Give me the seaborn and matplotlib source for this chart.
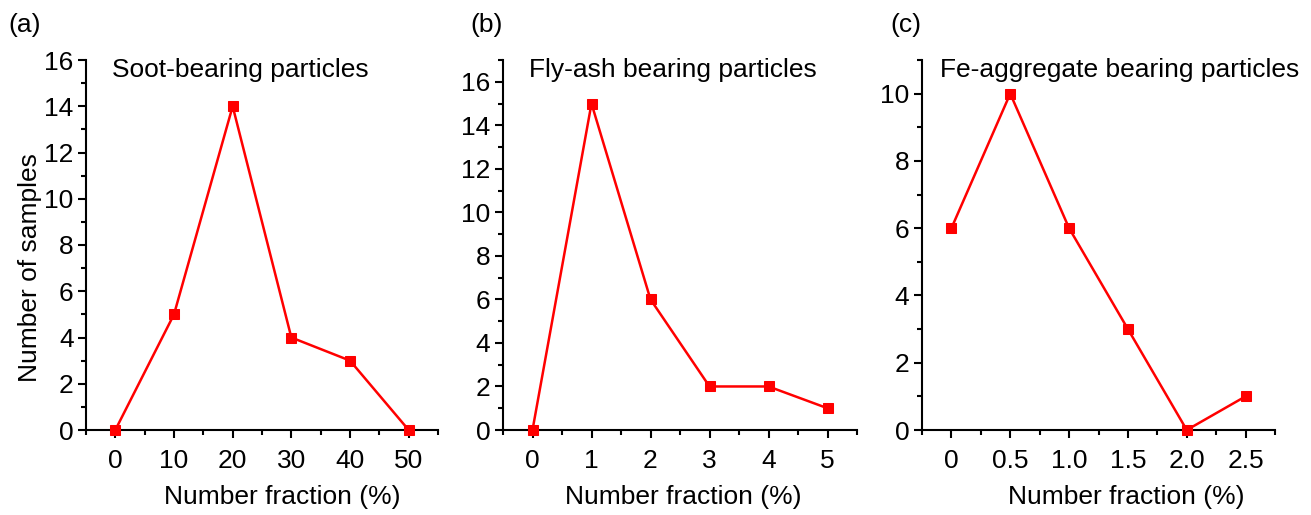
import matplotlib
matplotlib.use("Agg")
import matplotlib.pyplot as plt
import seaborn as sns
import pandas as pd
from matplotlib.ticker import MultipleLocator, FixedLocator

sns.set_style("ticks")
plt.rcParams['font.family'] = ['Liberation Sans', 'DejaVu Sans']

# Data
soot_x = [0, 10, 20, 30, 40, 50]
soot_y = [0, 5, 14, 4, 3, 0]
flyash_x = [0, 1, 2, 3, 4, 5]
flyash_y = [0, 15, 6, 2, 2, 1]
fe_x = [0, 0.5, 1.0, 1.5, 2.0, 2.5]
fe_y = [6, 10, 6, 3, 0, 1]

titles = ["Soot-bearing particles", "Fly-ash bearing particles", "Fe-aggregate bearing particles"]
panel_labels = ["(a)", "(b)", "(c)"]
xtick_labels_c = ["0", "0.5", "1.0", "1.5", "2.0", "2.5"]

fig = plt.figure(figsize=(13.11, 5.15), dpi=100)
W, H = 1311, 515
lefts = [86, 503, 922]
widths = [352, 354, 353]
top, bottom = 60, 430

datasets = [(soot_x, soot_y), (flyash_x, flyash_y), (fe_x, fe_y)]
xlims = [(-5, 55), (-0.5, 5.5), (-0.25, 2.75)]
ylims = [(0, 16), (0, 17), (0, 11)]
xmaj = [10, 1, 0.5]
ymaj = [2, 2, 2]
title_x = [0.074, 0.073, 0.051]
xlabel_x = [0.557, 0.508, 0.58]
plabel_x = [8, 470, 890]

fs = 19
for i in range(3):
    ax = fig.add_axes([lefts[i] / W, (H - bottom) / H, widths[i] / W, (bottom - top) / H])
    df = pd.DataFrame({"x": datasets[i][0], "y": datasets[i][1]})
    sns.lineplot(data=df, x="x", y="y", ax=ax, color="#ff0000", linewidth=1.8,
                 marker="s", markersize=7.5, markeredgecolor="#ff0000", clip_on=False, zorder=5)
    ax.set_xlim(*xlims[i])
    ax.set_ylim(*ylims[i])
    ax.xaxis.set_major_locator(FixedLocator(datasets[i][0]))
    ax.xaxis.set_minor_locator(MultipleLocator(xmaj[i] / 2))
    ax.yaxis.set_major_locator(MultipleLocator(ymaj[i]))
    ax.yaxis.set_minor_locator(MultipleLocator(1))
    if i == 2:
        ax.set_xticklabels(xtick_labels_c)
    sns.despine(ax=ax)
    for s in ["left", "bottom"]:
        ax.spines[s].set_linewidth(1.5)
        ax.spines[s].set_color("black")
    ax.tick_params(which="major", direction="out", length=6, width=1.5, labelsize=fs, colors="black", pad=3)
    ax.tick_params(which="minor", direction="out", length=3.5, width=1.5, colors="black")
    ax.tick_params(axis="x", which="major", pad=8)
    ax.set_xlabel("")
    ax.set_ylabel("")
    ax.text(title_x[i], 0.973, titles[i], transform=ax.transAxes, fontsize=fs,
            ha="left", va="center", color="black")
    fig.text(xlabel_x[i] * widths[i] / W + lefts[i] / W, 1 - 497 / H, "Number fraction (%)",
             ha="center", va="center", fontsize=fs, color="black")
    fig.text(plabel_x[i] / W, 1 - 25 / H, panel_labels[i], ha="left", va="center",
             fontsize=fs, color="black")

fig.text(30 / W, 1 - 268 / H, "Number of samples", rotation=90, ha="center", va="center",
         fontsize=fs, color="black")

fig.savefig("out.png", dpi=100)
